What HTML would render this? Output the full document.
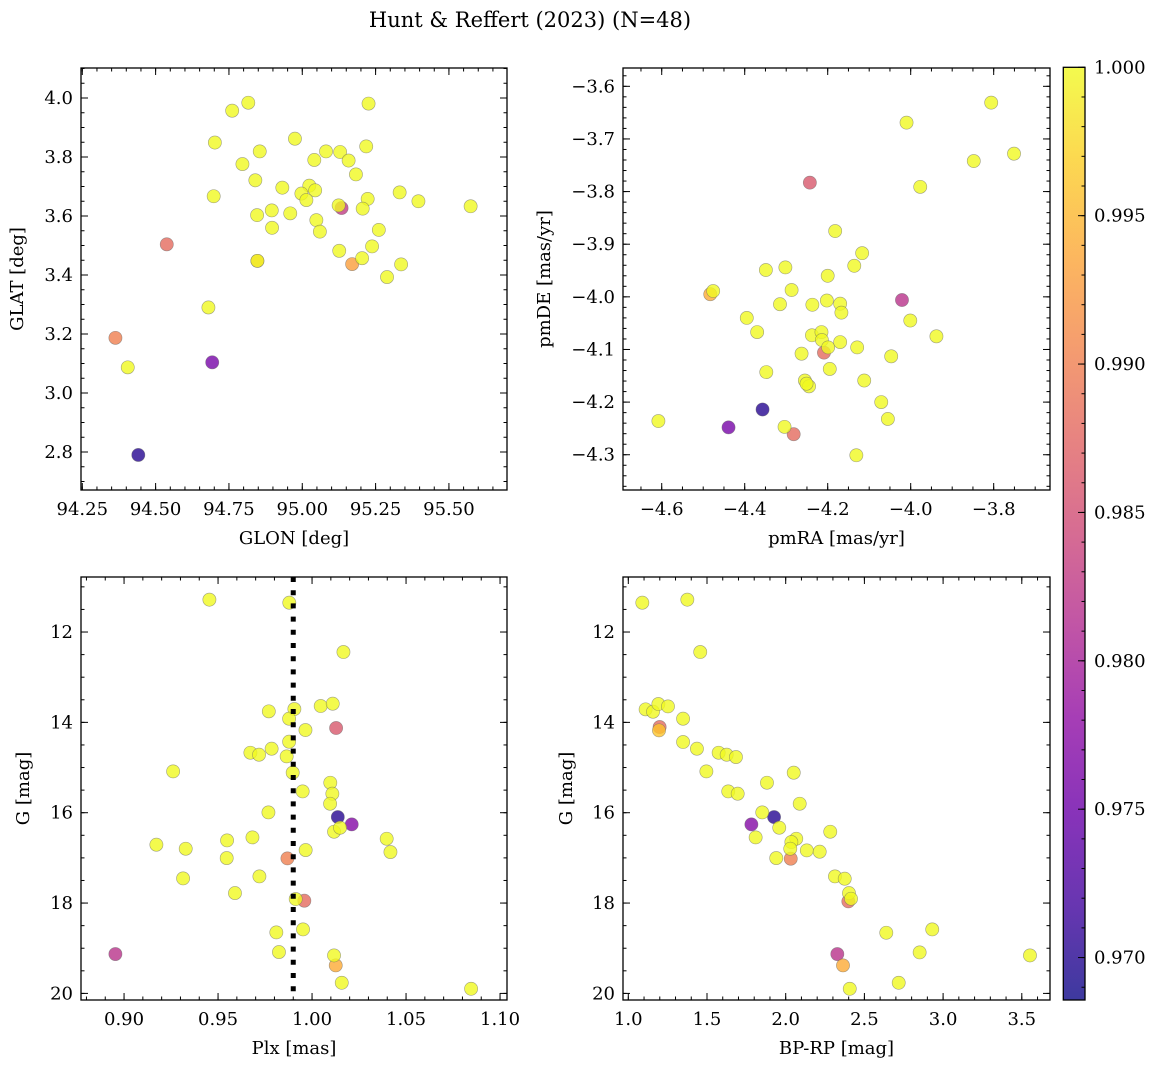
<!DOCTYPE html>
<html><head><meta charset="utf-8">
<style>
html,body{margin:0;padding:0;background:#fff;}
svg{display:block;font-family:"DejaVu Serif","Liberation Serif",serif;}
</style></head>
<body>
<svg id="fig" width="1161" height="1067" viewBox="0 0 1161 1067" xmlns="http://www.w3.org/2000/svg">
<defs>
<linearGradient id="plasma" x1="0" y1="1" x2="0" y2="0"></linearGradient>
</defs>
<rect x="0" y="0" width="1161" height="1067" fill="#fff"/>
<text x="530" y="27" text-anchor="middle" font-size="21">Hunt &amp; Reffert (2023) (N=48)</text>
</svg>
<script>
// ---- data ----
const p1Lon=[94.761,94.816,95.226,94.702,94.975,94.855,95.218,95.081,95.129,95.041,95.158,94.796,95.183,94.840,94.932,95.024,95.044,94.997,95.014,94.698,95.332,95.396,95.574,95.223,95.124,95.134,95.206,94.846,94.896,94.959,95.048,94.897,95.060,95.261,95.238,95.126,95.204,95.170,95.337,95.289,94.847,94.847,94.538,94.680,94.363,94.405,94.693,94.441];
const p1Lat=[3.957,3.984,3.981,3.849,3.862,3.819,3.836,3.819,3.817,3.790,3.788,3.776,3.741,3.721,3.696,3.703,3.687,3.676,3.654,3.667,3.680,3.650,3.633,3.658,3.636,3.627,3.625,3.603,3.619,3.609,3.586,3.560,3.547,3.553,3.497,3.482,3.457,3.437,3.436,3.393,3.448,3.448,3.504,3.290,3.187,3.087,3.104,2.790];
const p1C=[1,1,1,1,1,1,1,1,1,1,1,1,1,1,1,1,1,1,1,1,1,1,1,1,1,0.983,1,1,1,1,1,1,1,1,1,1,1,0.993,1,1,0.993,1,0.988,1,0.990,1,0.976,0.970];

const p2RA=[-3.806,-4.010,-3.848,-3.751,-3.977,-4.243,-4.182,-4.117,-4.136,-4.349,-4.302,-4.200,-4.476,-4.483,-4.287,-4.315,-4.237,-4.202,-4.170,-4.167,-4.021,-4.001,-3.938,-4.395,-4.370,-4.238,-4.215,-4.214,-4.199,-4.209,-4.170,-4.129,-4.263,-4.047,-4.195,-4.348,-4.112,-4.255,-4.245,-4.251,-4.071,-4.055,-4.608,-4.357,-4.439,-4.304,-4.282,-4.131];
const p2DE=[-3.631,-3.669,-3.742,-3.728,-3.791,-3.783,-3.875,-3.917,-3.941,-3.949,-3.944,-3.960,-3.989,-3.995,-3.987,-4.014,-4.015,-4.007,-4.013,-4.030,-4.006,-4.045,-4.075,-4.040,-4.067,-4.073,-4.067,-4.082,-4.096,-4.106,-4.086,-4.096,-4.108,-4.113,-4.137,-4.143,-4.159,-4.159,-4.170,-4.165,-4.200,-4.232,-4.236,-4.214,-4.248,-4.247,-4.261,-4.301];
const p2C=[1,1,1,1,1,0.986,1,1,1,1,1,1,1,0.994,1,1,1,1,1,1,0.982,1,1,1,1,1,1,1,1,0.988,1,1,1,1,1,1,1,1,1,1,1,1,1,0.970,0.976,1,0.988,1];

const p3Plx=[0.9454,0.9879,1.0167,0.9770,0.9906,1.0046,1.0110,0.9878,1.0128,0.9965,0.9878,0.9785,0.9672,0.9718,0.9865,0.9261,0.9897,1.0097,0.9950,1.0108,1.0096,0.9768,1.0137,1.0211,1.0117,1.0149,1.0397,1.0417,0.9683,0.9548,0.9172,0.9328,0.9966,0.9546,0.9869,0.9720,0.9314,0.9590,0.9913,0.9959,0.9952,0.9810,0.9824,0.8954,1.0117,1.0126,1.0158,1.0846];
const p3G=[11.284,11.351,12.443,13.756,13.705,13.638,13.587,13.919,14.125,14.170,14.428,14.583,14.672,14.716,14.753,15.085,15.114,15.336,15.528,15.579,15.801,15.993,16.096,16.258,16.421,16.332,16.576,16.871,16.546,16.613,16.708,16.797,16.827,17.004,17.011,17.410,17.454,17.779,17.911,17.948,18.583,18.649,19.085,19.129,19.159,19.380,19.764,19.897];
const p3C=[1,1,1,1,1,1,1,1,0.986,1,1,1,1,1,1,1,1,1,1,1,1,1,0.970,0.977,1,1,1,1,1,1,1,1,1,1,0.990,1,1,1,1,0.988,1,1,1,0.982,1,0.994,1,1];

const p4BR=[1.089,1.375,1.457,1.110,1.157,1.191,1.252,1.348,1.199,1.195,1.348,1.436,1.574,1.625,1.684,1.496,2.051,1.881,1.635,1.695,2.089,1.851,1.926,1.782,1.959,2.283,1.809,2.067,2.036,2.134,2.216,2.029,1.940,2.032,2.313,2.375,2.402,2.415,2.398,2.639,2.931,2.851,3.552,2.328,2.364,2.718,2.407];
const p4G=[11.351,11.284,12.443,13.712,13.764,13.594,13.646,13.919,14.103,14.177,14.435,14.583,14.672,14.716,14.768,15.085,15.114,15.336,15.528,15.579,15.801,15.993,16.096,16.258,16.332,16.421,16.546,16.576,16.649,16.834,16.863,16.797,17.004,17.018,17.410,17.461,17.779,17.904,17.963,18.657,18.583,19.092,19.159,19.129,19.380,19.764,19.897];
const p4C=[1,1,1,1,1,1,1,1,0.988,0.996,1,1,1,1,1,1,1,1,1,1,1,1,0.970,0.977,1,1,1,1,1,1,1,1,1,0.990,1,1,1,1,0.988,1,1,1,1,0.982,0.994,1,1];

const p1XTicks=[94.25,94.50,94.75,95.00,95.25,95.50];
const p1XLabels=["94.25","94.50","94.75","95.00","95.25","95.50"];
const p1YTicks=[2.8,3.0,3.2,3.4,3.6,3.8,4.0];
const p1YLabels=["2.8","3.0","3.2","3.4","3.6","3.8","4.0"];
const p2XTicks=[-4.6,-4.4,-4.2,-4.0,-3.8];
const p2XLabels=["\u22124.6","\u22124.4","\u22124.2","\u22124.0","\u22123.8"];
const p2YTicks=[-4.3,-4.2,-4.1,-4.0,-3.9,-3.8,-3.7,-3.6];
const p2YLabels=["\u22124.3","\u22124.2","\u22124.1","\u22124.0","\u22123.9","\u22123.8","\u22123.7","\u22123.6"];
const p3XTicks=[0.90,0.95,1.00,1.05,1.10];
const p3XLabels=["0.90","0.95","1.00","1.05","1.10"];
const gTicks=[12,14,16,18,20];
const gLabels=["12","14","16","18","20"];
const p4XTicks=[1.0,1.5,2.0,2.5,3.0,3.5];
const p4XLabels=["1.0","1.5","2.0","2.5","3.0","3.5"];
const cbTicks=[0.970,0.975,0.980,0.985,0.990,0.995,1.000];
const cbLabels=["0.970","0.975","0.980","0.985","0.990","0.995","1.000"];
const plxLine=0.99;

// ---- rendering ----
const NS="http://www.w3.org/2000/svg";
const svg=document.getElementById('fig');
const VMIN=0.96857, VMAX=1.0;
const stops=[[13,8,135],[65,4,157],[106,0,168],[143,13,164],[177,42,144],[204,71,120],[225,100,98],[242,132,75],[252,166,54],[252,206,37],[240,249,33]];
function plasma(t){t=Math.max(0,Math.min(1,t));const s=t*10,i=Math.min(9,Math.floor(s)),f=s-i;const a=stops[i],b=stops[i+1];
 return 'rgb('+a.map((v,k)=>Math.round(v+(b[k]-v)*f)).join(',')+')';}
function el(tag,attrs,parent){const e=document.createElementNS(NS,tag);for(const k in attrs)e.setAttribute(k,attrs[k]);(parent||svg).appendChild(e);return e;}
const grad=document.getElementById('plasma');
for(let i=0;i<=10;i++){el('stop',{offset:(i*10)+'%','stop-color':plasma(i/10)},grad);}

function panel(cfg){
 const g=el('g',{});
 
 
 const {L,R,T,B,x0,x1,y0,y1}=cfg;
 const sx=v=>L+(v-x0)/(x1-x0)*(R-L);
 const sy=v=>T+(v-y0)/(y1-y0)*(B-T);
 const idx=cfg.xs.map((_,i)=>i).sort((a,b)=>cfg.cs[a]-cfg.cs[b]);
 idx.forEach(i=>{
  const c=el('circle',{cx:sx(cfg.xs[i]),cy:sy(cfg.ys[i]),r:6.6,fill:plasma((cfg.cs[i]-VMIN)/(VMAX-VMIN)),'fill-opacity':0.8,stroke:'#666','stroke-opacity':0.6,'stroke-width':0.6},g);
  
  
 });
 if(cfg.vline!==undefined){
  const ln=el('line',{x1:sx(cfg.vline),x2:sx(cfg.vline),y1:T,y2:B,stroke:'#000','stroke-width':5,'stroke-dasharray':'5 8.2'},g);
  
  
 }
 const lo=Math.min(x0,x1),hi=Math.max(x0,x1);
 for(let v=Math.ceil(lo/cfg.xm-1e-6)*cfg.xm;v<=hi+1e-9;v+=cfg.xm){const X=sx(v);
  el('line',{x1:X,x2:X,y1:B,y2:B-3.5,stroke:'#000','stroke-width':1},g);
  el('line',{x1:X,x2:X,y1:T,y2:T+3.5,stroke:'#000','stroke-width':1},g);}
 const ylo=Math.min(y0,y1),yhi=Math.max(y0,y1);
 for(let v=Math.ceil(ylo/cfg.ym-1e-6)*cfg.ym;v<=yhi+1e-9;v+=cfg.ym){const Y=sy(v);
  el('line',{x1:L,x2:L+3.5,y1:Y,y2:Y,stroke:'#000','stroke-width':1},g);
  el('line',{x1:R,x2:R-3.5,y1:Y,y2:Y,stroke:'#000','stroke-width':1},g);}
 cfg.xt.forEach((v,i)=>{const X=sx(v);
  el('line',{x1:X,x2:X,y1:B,y2:B-7,stroke:'#000','stroke-width':1},g);
  el('line',{x1:X,x2:X,y1:T,y2:T+7,stroke:'#000','stroke-width':1},g);
  const t=el('text',{x:X,y:B+25,'text-anchor':'middle','font-size':18},g);t.textContent=cfg.xl[i];
  
  });
 cfg.yt.forEach((v,i)=>{const Y=sy(v);
  el('line',{x1:L,x2:L+7,y1:Y,y2:Y,stroke:'#000','stroke-width':1},g);
  el('line',{x1:R,x2:R-7,y1:Y,y2:Y,stroke:'#000','stroke-width':1},g);
  const t=el('text',{x:L-8,y:Y+6,'text-anchor':'end','font-size':18},g);t.textContent=cfg.yl[i];
  
  });
 const fr=el('rect',{x:L,y:T,width:R-L,height:B-T,fill:'none',stroke:'#000','stroke-width':1.3},g);
 
 
 const xt=el('text',{x:(L+R)/2,y:B+54,'text-anchor':'middle','font-size':18},g);xt.textContent=cfg.xlabel;
 
 
 const yx=cfg.ylx,yy=(T+B)/2;
 const yt=el('text',{x:yx,y:yy,'text-anchor':'middle','font-size':18,transform:'rotate(-90 '+yx+' '+yy+')'},g);yt.textContent=cfg.ylabel;
 
 
}

panel({name:'glon-glat-panel',L:81,R:507,T:68,B:490,x0:94.2456,x1:95.698,y0:4.1017,y1:2.6712,xs:p1Lon,ys:p1Lat,cs:p1C,
 xt:p1XTicks,xl:p1XLabels,yt:p1YTicks,yl:p1YLabels,xm:0.05,ym:0.05,xlabel:'GLON [deg]',ylabel:'GLAT [deg]',ylx:23});
panel({name:'proper-motion-panel',L:623,R:1050,T:68,B:490,x0:-4.6933,x1:-3.6643,y0:-3.5652,y1:-4.367,xs:p2RA,ys:p2DE,cs:p2C,
 xt:p2XTicks,xl:p2XLabels,yt:p2YTicks,yl:p2YLabels,xm:0.05,ym:0.02,xlabel:'pmRA [mas/yr]',ylabel:'pmDE [mas/yr]',ylx:550});
panel({name:'parallax-mag-panel',L:81,R:507,T:577,B:1000,x0:0.8771,x1:1.1037,y0:10.782,y1:20.146,xs:p3Plx,ys:p3G,cs:p3C,
 xt:p3XTicks,xl:p3XLabels,yt:gTicks,yl:gLabels,xm:0.01,ym:0.5,xlabel:'Plx [mas]',ylabel:'G [mag]',ylx:29,vline:plxLine});
panel({name:'cmd-panel',L:623,R:1050,T:577,B:1000,x0:0.9663,x1:3.6792,y0:10.782,y1:20.146,xs:p4BR,ys:p4G,cs:p4C,
 xt:p4XTicks,xl:p4XLabels,yt:gTicks,yl:gLabels,xm:0.1,ym:0.5,xlabel:'BP-RP [mag]',ylabel:'G [mag]',ylx:572});

const cb=el('g',{});


const CL=1063.3,CR=1085,CT=67.3,CB=1000;
const cy=v=>CT+(VMAX-v)/(VMAX-VMIN)*(CB-CT);
el('rect',{x:CL,y:CT,width:CR-CL,height:CB-CT,fill:'url(#plasma)','fill-opacity':0.8},cb);
for(let v=0.969;v<=1.0000001;v+=0.001){const Y=cy(v);el('line',{x1:CR,x2:CR-3.5,y1:Y,y2:Y,stroke:'#000','stroke-width':1},cb);}
cbTicks.forEach((v,i)=>{const Y=cy(v);
 el('line',{x1:CR,x2:CR-7,y1:Y,y2:Y,stroke:'#000','stroke-width':1},cb);
 const t=el('text',{x:CR+9,y:Y+6,'font-size':18},cb);t.textContent=cbLabels[i];
 
 });
el('rect',{x:CL,y:CT,width:CR-CL,height:CB-CT,fill:'none',stroke:'#000','stroke-width':1.3},cb);
</script>
</body></html>
